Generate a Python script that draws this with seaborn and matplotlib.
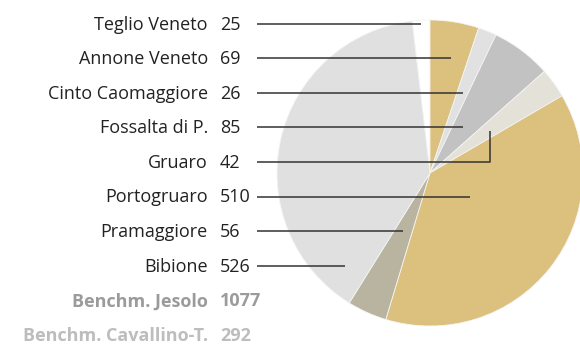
import matplotlib
matplotlib.use("Agg")
import matplotlib.pyplot as plt
import seaborn as sns

# Municipalities shown in the pie (clockwise, starting just left of 12 o'clock)
comuni = ["Teglio Veneto", "Annone Veneto", "Cinto Caomaggiore", "Fossalta di P.",
          "Gruaro", "Portogruaro", "Pramaggiore", "Bibione"]
valori = [25, 69, 26, 85, 42, 510, 56, 526]
colori = ["#ffffff", "#dcc07e", "#e1e1e1", "#c2c2c2",
          "#e3e1d8", "#dcc07e", "#b9b4a0", "#e0e0e0"]

# Benchmarks listed below, not part of the pie
benchmark = ["Benchm. Jesolo", "Benchm. Cavallino-T."]
valori_benchmark = [1077, 292]
colori_benchmark = ["#9b9b9b", "#bdbdbd"]

sns.set_theme(style="white")
plt.rcParams["font.family"] = ["Open Sans", "DejaVu Sans"]

W, H = 580, 345
fig = plt.figure(figsize=(W / 100, H / 100), dpi=100)
ax = fig.add_axes([0, 0, 1, 1])


def py(y):
    """Convert a top-down pixel row into the axes' bottom-up coordinate."""
    return H - y


cx, cy, r = 430, 173, 153
totale = sum(valori)
ax.pie(valori, colors=colori, counterclock=False,
       startangle=90 + 360 * valori[0] / totale,
       center=(cx, py(cy)), radius=r,
       wedgeprops=dict(linewidth=0.6, edgecolor="#f4f4f4"))
ax.set_xlim(0, W)
ax.set_ylim(0, H)
ax.set_aspect("equal")
ax.axis("off")

# Label layout
row0, step = 23.5, 34.6
x_name, x_val, x_line = 208, 220, 257
line_end = [421, 451, 463, 463, 490, 470, 403, 345]
fs = 13

for i, (nome, v) in enumerate(zip(comuni, valori)):
    y = row0 + step * i
    ax.text(x_name, py(y + 6), nome, ha="right", va="baseline",
            fontsize=fs, color="#222222")
    ax.text(x_val, py(y + 6), f"{v}", ha="left", va="baseline",
            fontsize=fs, color="#222222")
    if nome == "Gruaro":
        ax.plot([x_line, line_end[i], line_end[i]], [py(y), py(y), py(y - 31)],
                color="#333333", lw=1.1, solid_capstyle="butt")
    else:
        ax.plot([x_line, line_end[i]], [py(y), py(y)],
                color="#333333", lw=1.1, solid_capstyle="butt")

for j, (nome, v, c) in enumerate(zip(benchmark, valori_benchmark, colori_benchmark)):
    y = row0 + step * (len(comuni) + j)
    ax.text(x_name, py(y + 6), nome, ha="right", va="baseline",
            fontsize=fs, color=c, fontweight="bold")
    ax.text(x_val, py(y + 6), f"{v}", ha="left", va="baseline",
            fontsize=fs, color=c, fontweight="bold")

fig.savefig("out.png", dpi=100, facecolor="white")
